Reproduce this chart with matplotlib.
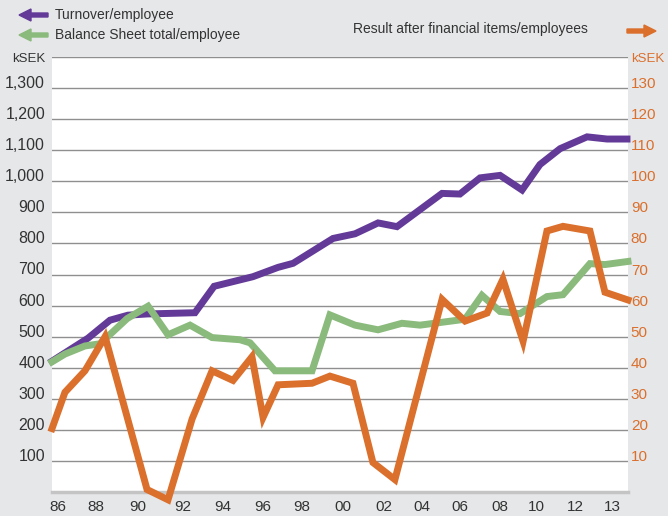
import matplotlib
matplotlib.use("Agg")
import matplotlib.pyplot as plt

plt.rcParams['font.family'] = ['Liberation Sans', 'DejaVu Sans']

# ---------------- data ----------------
turnover_x = [1986.0, 1987.75, 1988.82, 1989.69, 1990.62, 1992.95, 1993.88, 1995.77,
              1996.99, 1997.72, 1999.66, 2000.73, 2001.85, 2002.77, 2004.96, 2005.83,
              2006.81, 2007.78, 2008.85, 2009.72, 2010.70, 2012.01, 2012.98, 2013.95]
turnover = [421, 495, 553, 569, 573, 577, 662, 693,
            723, 736, 816, 831, 866, 854, 961, 959,
            1011, 1019, 972, 1054, 1105, 1143, 1136, 1136]

balance_x = [1986.0, 1986.63, 1987.6, 1988.33, 1989.65, 1990.67, 1991.64, 1992.71,
             1993.78, 1995.14, 1995.63, 1996.84, 1998.64, 1999.51, 2000.73, 2001.85,
             2003.01, 2003.89, 2006.08, 2006.9, 2007.78, 2008.75, 2010.06, 2010.84,
             2012.15, 2012.88, 2014.0]
balance = [419, 444, 470, 477, 558, 598, 506, 537,
           497, 490, 480, 390, 390, 570, 537, 522,
           543, 537, 556, 633, 581, 574, 629, 635,
           735, 732, 742]

result_x = [1986.0, 1986.63, 1987.6, 1988.58, 1990.62, 1991.64, 1992.81, 1993.78,
            1994.8, 1995.72, 1996.26, 1996.99, 1998.64, 1999.51, 2000.63, 2001.6,
            2002.67, 2004.96, 2006.08, 2007.15, 2007.92, 2008.9, 2010.06, 2010.84,
            2012.15, 2012.88, 2014.0]
result = [20.4, 32.1, 39.0, 50.0, 0.8, -2.5, 23.5, 39.0,
          35.9, 43.5, 24.0, 34.5, 35.0, 37.3, 35.0, 9.5,
          4.0, 62.0, 55.0, 57.6, 68.5, 48.5, 84.0, 85.5,
          84.0, 64.3, 61.8]

x_tick_labels = ['86', '88', '90', '92', '94', '96', '98', '00', '02', '04',
                 '06', '08', '10', '12', '13']
x_tick_pos = [1986.29, 1988.14, 1990.18, 1992.37, 1994.31, 1996.26, 1998.15, 2000.15,
              2002.14, 2003.99, 2005.84, 2007.78, 2009.53, 2011.43, 2013.22]
left_ticks = list(range(100, 1500, 100))
right_ticks = list(range(10, 150, 10))

# ---------------- style ----------------
BG = '#e6e7e9'
PURPLE = '#633a98'
GREEN = '#8aba7c'
ORANGE = '#db6f2c'
TXT = '#333333'
GRID = '#8f8f8f'

fig = plt.figure(figsize=(6.68, 5.16), dpi=100, facecolor=BG)
ax = fig.add_axes([52/668, 24/516, 576/668, 435/516])
ax.set_facecolor('white')
ax.set_xlim(1986, 2014)
ax.set_ylim(0, 1400)

for s in ax.spines.values():
    s.set_visible(False)
ax.axhline(0, color='#c4c4c4', lw=2.5, zorder=1, clip_on=False)
for v in left_ticks:
    ax.axhline(v, color=GRID, lw=1.0, zorder=1)

ax.plot(turnover_x, turnover, color=PURPLE, lw=5, solid_joinstyle='miter', zorder=3, clip_on=False)
ax.plot(balance_x, balance, color=GREEN, lw=5, solid_joinstyle='miter', zorder=4, clip_on=False)

ax.set_xticks(x_tick_pos)
ax.set_xticklabels(x_tick_labels)
ax.tick_params(axis='x', length=0, pad=6, labelsize=11, labelcolor=TXT)

ax.set_yticks(left_ticks)
ax.set_yticklabels([f'{v:,}' if v < 1400 else 'kSEK' for v in left_ticks])
ax.tick_params(axis='y', length=0, pad=5, labelsize=11.5, labelcolor=TXT)
for lab in ax.get_yticklabels():
    if lab.get_text() != 'kSEK':
        lab.set_va('baseline')
    else:
        lab.set_fontsize(9.5)

ax2 = ax.twinx()
ax2.set_ylim(0, 140)
for s in ax2.spines.values():
    s.set_visible(False)
ax2.plot(result_x, result, color=ORANGE, lw=5, solid_joinstyle='miter', zorder=5, clip_on=False)
ax2.set_yticks(right_ticks)
ax2.set_yticklabels([str(v) if v < 140 else 'kSEK' for v in right_ticks])
ax2.tick_params(axis='y', length=0, pad=2, labelsize=11, labelcolor=ORANGE)
for lab in ax2.get_yticklabels():
    if lab.get_text() != 'kSEK':
        lab.set_va('baseline')
    else:
        lab.set_fontsize(9.5)

# ---------------- legend ----------------
def arrow(x0, x1, y, color):
    fig.patches.append(matplotlib.patches.FancyArrow(
        x0/668, 1 - y/516, (x1 - x0)/668, 0, width=4/516, head_width=12/516,
        head_length=12/668, length_includes_head=True, color=color,
        transform=fig.transFigure, figure=fig))

arrow(48, 19, 15, PURPLE)
arrow(48, 19, 35, GREEN)
arrow(627, 656, 31, ORANGE)

fig.text(55/668, 1 - 15/516, 'Turnover/employee', fontsize=10, color=TXT, va='center')
fig.text(55/668, 1 - 35/516, 'Balance Sheet total/employee', fontsize=10, color=TXT, va='center')
fig.text(353/668, 1 - 29/516, 'Result after financial items/employees', fontsize=10,
         color=TXT, va='center')

fig.savefig('out.png', dpi=100, facecolor=BG)
